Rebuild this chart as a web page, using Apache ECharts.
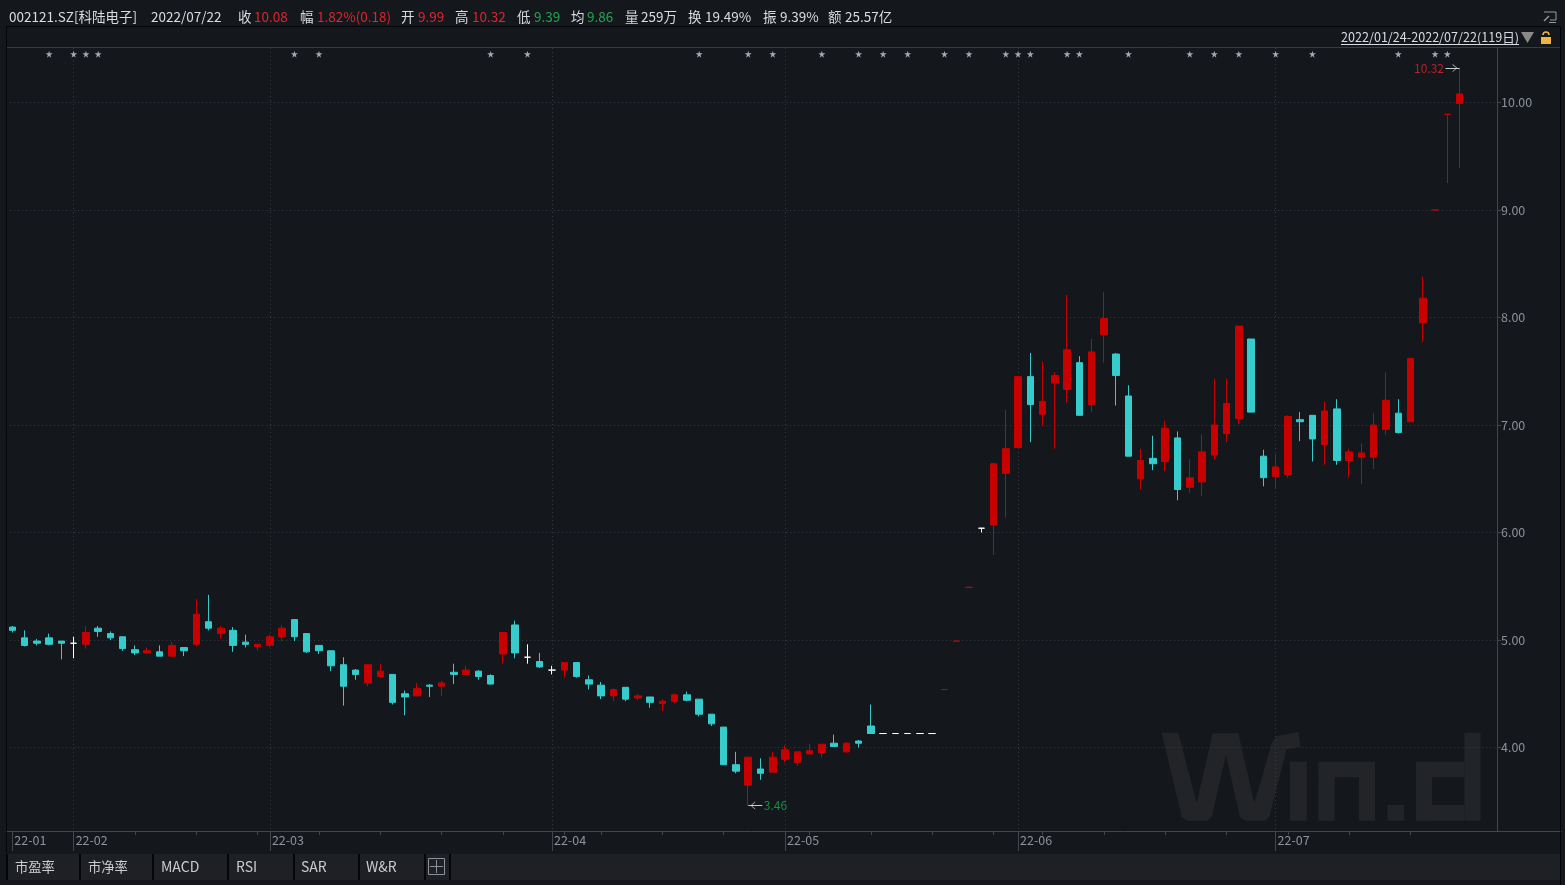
<!DOCTYPE html>
<html><head><meta charset="utf-8">
<style>html,body{margin:0;padding:0;background:#14171c}#c{width:1565px;height:885px}</style>
<script src="https://cdn.jsdelivr.net/npm/echarts@6/dist/echarts.min.js"></script>
</head><body><div id="c"></div>
<script>
const open = [5.12,5.02,4.99,5.02,4.99,4.97,4.96,5.11,5.06,5.03,4.91,4.88,4.89,4.85,4.93,4.96,5.17,5.06,5.09,4.98,
 4.94,4.95,5.03,5.19,5.06,4.95,4.90,4.77,4.72,4.60,4.66,4.68,4.50,4.48,4.58,4.57,4.70,4.68,4.71,4.67,
 4.87,5.14,4.84,4.80,4.72,4.72,4.79,4.63,4.58,4.48,4.56,4.46,4.47,4.41,4.43,4.49,4.45,4.31,4.19,3.84,
 3.65,3.80,3.77,3.89,3.86,3.94,3.95,4.04,3.96,4.06,4.20,4.13,4.13,4.13,4.13,4.13,4.54,4.99,5.49,6.04,
 6.07,6.55,6.79,7.45,7.10,7.39,7.33,7.58,7.19,7.84,7.66,7.27,6.50,6.69,6.66,6.88,6.42,6.47,6.72,6.92,
 7.06,7.80,6.71,6.52,6.54,7.05,7.09,6.82,7.15,6.67,6.70,6.70,6.96,7.11,7.03,7.95,9.00,9.89,9.99];
const close = [5.09,4.95,4.97,4.96,4.97,4.97,5.07,5.08,5.02,4.92,4.88,4.90,4.85,4.95,4.90,5.24,5.11,5.11,4.95,4.96,
 4.96,5.03,5.11,5.03,4.89,4.90,4.76,4.57,4.68,4.77,4.71,4.42,4.47,4.55,4.57,4.60,4.68,4.72,4.66,4.59,
 5.07,4.88,4.84,4.75,4.72,4.79,4.66,4.59,4.48,4.54,4.45,4.48,4.42,4.43,4.49,4.44,4.31,4.22,3.84,3.78,
 3.91,3.76,3.91,3.98,3.96,3.97,4.03,4.01,4.04,4.04,4.13,4.13,4.13,4.13,4.13,4.13,4.54,4.99,5.49,6.04,
 6.64,6.78,7.45,7.19,7.22,7.46,7.70,7.09,7.68,7.99,7.46,6.71,6.67,6.64,6.97,6.40,6.51,6.75,7.00,7.20,
 7.92,7.12,6.51,6.61,7.08,7.03,6.87,7.13,6.67,6.75,6.74,7.00,7.23,6.93,7.62,8.18,9.00,9.89,10.08];
const low = [5.07,4.94,4.95,4.95,4.82,4.83,4.92,5.03,5.00,4.90,4.86,4.87,4.85,4.84,4.85,4.94,5.09,5.01,4.89,4.93,
 4.90,4.93,4.99,4.99,4.88,4.87,4.71,4.39,4.63,4.57,4.65,4.40,4.30,4.48,4.47,4.48,4.59,4.68,4.63,4.59,
 4.78,4.83,4.78,4.74,4.68,4.65,4.65,4.54,4.45,4.43,4.43,4.44,4.37,4.34,4.41,4.43,4.29,4.20,3.84,3.76,
 3.46,3.70,3.77,3.86,3.83,3.94,3.91,4.01,3.95,4.00,4.13,4.13,4.13,4.13,4.13,4.13,4.54,4.99,5.49,6.00,
 5.79,6.14,6.79,6.84,6.99,6.78,7.21,7.09,7.12,7.58,7.18,6.71,6.40,6.58,6.57,6.30,6.37,6.34,6.68,6.84,
 7.01,7.12,6.43,6.41,6.51,6.85,6.66,6.63,6.63,6.51,6.45,6.59,6.91,6.92,7.03,7.77,9.00,9.25,9.39];
const high = [5.13,5.09,5.01,5.06,4.99,5.03,5.13,5.13,5.08,5.03,4.95,4.93,4.95,4.98,4.93,5.38,5.42,5.13,5.12,5.05,
 4.96,5.05,5.14,5.19,5.06,4.95,4.90,4.84,4.73,4.77,4.78,4.68,4.53,4.60,4.59,4.62,4.78,4.76,4.72,4.68,
 5.07,5.18,4.96,4.88,4.76,4.79,4.79,4.67,4.61,4.55,4.56,4.50,4.47,4.45,4.50,4.52,4.45,4.31,4.19,3.96,
 3.91,3.90,3.96,4.02,3.96,4.03,4.03,4.12,4.05,4.07,4.40,4.13,4.13,4.13,4.13,4.13,4.54,4.99,5.49,6.04,
 6.64,7.14,7.45,7.67,7.59,7.49,8.21,7.64,7.80,8.24,7.67,7.37,6.78,6.90,7.04,6.94,6.68,6.91,7.43,7.43,
 7.92,7.80,6.77,6.73,7.09,7.12,7.09,7.22,7.24,6.78,6.83,7.11,7.49,7.24,7.62,8.38,9.00,9.89,10.32];
const limitDays = [76,77,78,116,117];
const starDays = [3,5,6,7,23,25,39,42,56,60,62,66,69,71,73,76,78,81,82,83,86,87,91,96,98,100,103,106,113,116,117];
const starLevel = 10.45;
const priceTicks = [4,5,6,7,8,9,10];
const monthDays = [0,5,21,44,63,82,103];
const monthLabels = ['22-01','22-02','22-03','22-04','22-05','22-06','22-07'];
const weekDays = [10,15,20,25,30,35,40,45,48,53,58,65,70,75,80,84,89,94,99,104,109,114];
const headerItems = [
 ['002121.SZ[科陆电子]',9,'w'],['2022/07/22',151,'w'],['收',238,'w'],['10.08',254,'r'],['幅',300,'w'],['1.82%(0.18)',317,'r'],
 ['开',401,'w'],['9.99',418,'r'],['高',455,'w'],['10.32',472,'r'],['低',517,'w'],['9.39',534,'g'],['均',571,'w'],['9.86',587,'g'],
 ['量',625,'w'],['259万',641,'w'],['换',688,'w'],['19.49%',705,'w'],['振',763,'w'],['9.39%',780,'w'],['额',828,'w'],['25.57亿',845,'w']];
const tabItems = [['市盈率',15,13.3],['市净率',88,13.3],['MACD',161,14],['RSI',236,14],['SAR',301,14],['W&R',366,14]];
const tabDividers = [6,79,152,227,293,358,424,449];
const rangeText = '2022/01/24-2022/07/22(119日)';

const RED='#c80000',TEAL='#36cccc',GRID='#383b40',AXIS='#44464b',LABEL='#8d9299';
const FF='"Noto Sans CJK SC","Noto Sans",sans-serif';
const hc={w:'#d9dde2',r:'#e2232b',g:'#1da84d'};
const minX=-0.5,maxX=121.05,minY=3.2233,maxY=10.507;
const candle=open.map((o,i)=>{
  const v=[i,o,close[i],low[i],high[i]];
  return limitDays.includes(i)?{value:v,itemStyle:{borderColorDoji:i===117?RED:'#a80f0f'}}:{value:v};
});
const tx=(text,x,y,fill,size)=>({type:'text',x,y,z:5,silent:true,style:{text,fill,font:`${size||13}px ${FF}`,textVerticalAlign:'middle'}});
const rc=(x,y,w,h,fill,z)=>({type:'rect',z:z===undefined?1:z,silent:true,shape:{x,y,width:w,height:h},style:{fill}});
const ln=(x1,y1,x2,y2,stroke)=>({type:'line',z:4,silent:true,shape:{x1,y1,x2,y2},style:{stroke,lineWidth:1}});
const wm=(pts)=>({type:'polygon',z:-10,silent:true,shape:{points:pts.map(p=>[1130+p[0]/3,710+p[1]/3])},style:{fill:'#222428'}});
const wmR=(a,b,c,d)=>wm([[a,b],[c,b],[c,d],[a,d]]);
const graphic=[
 wm([[95,68],[145,68],[200,280],[248,70],[325,70],[373,280],[425,100],[440,78],[505,66],[512,110],[470,118],[418,320],[405,332],[345,332],[330,320],[288,135],[245,320],[232,332],[170,332],[155,320]]),
 wmR(480,155,530,332),
 wm([[565,332],[565,155],[735,155],[735,332],[687,332],[687,202],[614,202],[614,332]]),
 wmR(772,285,822,332),wmR(858,155,1003,202),wmR(1003,68,1052,332),wmR(858,285,1003,332),wmR(858,155,906,332),
 ln(6.5,26.5,1560,26.5,'#05060a'),ln(6.5,47.5,1560,47.5,'#3a3c41'),ln(6.5,26,6.5,853,'#05060a'),
 ln(1497,831.5,1562,831.5,AXIS),ln(1560.5,26,1560.5,885,'#05060a'),
 rc(6,854,1554,26,'#1f2025'),
 ...tabDividers.map(x=>rc(x,854,2,26,'#05060a',2)),
 ...tabItems.map(t=>tx(t[0],t[1],867,'#c9cdd2',t[2])),
 {type:'rect',z:4,silent:true,shape:{x:428.5,y:858.5,width:16,height:16},style:{fill:'none',stroke:'#8d9299',lineWidth:1}},
 ln(436.5,860,436.5,873,'#8d9299'),ln(430,866.5,443,866.5,'#8d9299'),
 ...headerItems.map(h=>tx(h[0],h[1],17,hc[h[2]],13.5)),
 tx(rangeText,1341,37,'#d9dde2',12.6),ln(1341,44.5,1519,44.5,'#d9dde2'),
 {type:'polygon',z:4,silent:true,shape:{points:[[1521,32],[1534,32],[1527.5,43]]},style:{fill:'#8a8a8a'}},
 rc(1541,37,10,7,'#f0b445',4),
 {type:'arc',z:4,silent:true,shape:{cx:1546,cy:35,r:3,startAngle:Math.PI,endAngle:0},style:{fill:'none',stroke:'#f0b445',lineWidth:1.6}},
 {type:'polyline',z:4,silent:true,shape:{points:[[1544,12],[1556,12],[1556,20],[1550,20]]},style:{fill:'none',stroke:'#9a9a9a',lineWidth:1}},
 {type:'polyline',z:4,silent:true,shape:{points:[[1544,21],[1549,16]]},style:{fill:'none',stroke:'#9a9a9a',lineWidth:1.5}},
 ln(1549,22.5,1556,22.5,'#9a9a9a')
];
const head='path://M5,0 L5,0 Z M5,10 L0,15 L1,15 L5,11 L9,15 L10,15 Z';
const baseX={type:'value',position:'bottom',min:minX,max:maxX,scale:false,axisPointer:{show:false}};
const lowest=Math.min(...low),highest=Math.max(...high);
const chart=echarts.init(document.getElementById('c'),null,{renderer:'canvas'});
chart.setOption({
 backgroundColor:'#14171c',animation:false,
 textStyle:{fontFamily:FF},
 graphic:{elements:graphic},
 grid:{left:6.2,top:48,width:1490.8,height:783,containLabel:false},
 xAxis:[
  {...baseX,axisLine:{show:true,onZero:false,lineStyle:{color:AXIS}},axisLabel:{show:false},splitLine:{show:false},
   axisTick:{show:true,length:4,lineStyle:{color:AXIS},customValues:weekDays}},
  {...baseX,axisLine:{show:false,onZero:false},splitLine:{show:false},
   axisTick:{show:true,length:20,lineStyle:{color:AXIS},customValues:monthDays},
   axisLabel:{show:true,customValues:monthDays,align:'left',margin:3,padding:[0,0,0,2],color:LABEL,fontSize:12.5,fontFamily:FF,
     hideOverlap:false,showMinLabel:true,showMaxLabel:true,formatter:v=>monthLabels[monthDays.indexOf(v)]||''}},
  {...baseX,axisLine:{show:false,onZero:false},axisLabel:{show:false},
   axisTick:{show:false,customValues:monthDays.slice(1)},
   splitLine:{show:true,lineStyle:{color:GRID,type:[1,3]}}}
 ],
 yAxis:{type:'value',position:'right',min:minY,max:maxY,
  axisLine:{show:true,onZero:false,lineStyle:{color:AXIS}},
  axisTick:{show:true,length:4,lineStyle:{color:AXIS},customValues:priceTicks},
  axisLabel:{show:true,customValues:priceTicks,color:LABEL,fontSize:12.5,margin:4,fontFamily:FF,formatter:v=>v.toFixed(2)},
  splitLine:{show:true,lineStyle:{color:GRID,type:[1,3]}}},
 series:[
  {type:'candlestick',xAxisIndex:0,data:candle,barWidth:7,encode:{x:0,y:[1,2,3,4]},
   itemStyle:{color:RED,color0:TEAL,borderColor:RED,borderColor0:TEAL,borderColorDoji:'#ffffff',borderWidth:1},
   markLine:{silent:true,animation:false,precision:2,
    lineStyle:{color:'#c9cdd2',width:1,type:'solid'},symbolSize:[8,14],
    data:[
     [{coord:[60,lowest],symbol:head},{coord:[61.15,lowest],symbol:'none'}],
     [{coord:[118,highest],symbol:head},{coord:[116.85,highest],symbol:'none'}]
    ],label:{show:false}}},
  {type:'scatter',xAxisIndex:0,silent:true,symbol:'path://M50,0 L61,35 L98,35 L68,57 L79,91 L50,70 L21,91 L32,57 L2,35 L39,35 Z',symbolSize:7,
   itemStyle:{color:'#c8ced6'},data:starDays.map(d=>[d,starLevel])},
  {type:'scatter',xAxisIndex:0,silent:true,symbol:'circle',symbolSize:1,itemStyle:{color:'rgba(0,0,0,0)'},
   data:[
    {value:[61.15,lowest],label:{show:true,position:'right',distance:1,formatter:lowest.toFixed(2),color:hc.g,fontSize:12,fontFamily:FF}},
    {value:[116.85,highest],label:{show:true,position:'left',distance:1,formatter:highest.toFixed(2),color:hc.r,fontSize:12,fontFamily:FF}}
   ]}
 ]
});
</script></body></html>
